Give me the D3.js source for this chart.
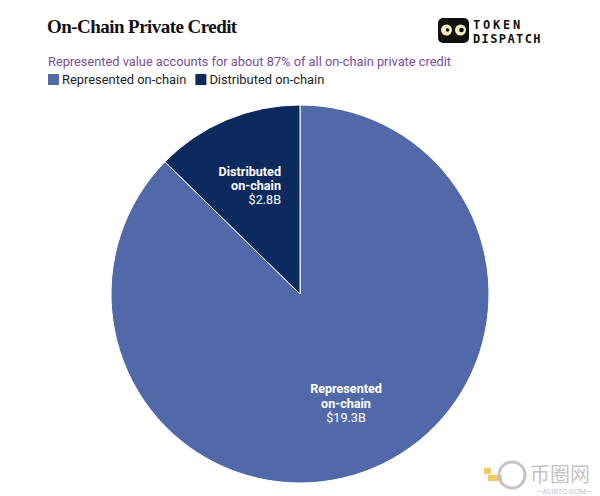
<!DOCTYPE html>
<html><head><meta charset="utf-8">
<script src="https://cdn.jsdelivr.net/npm/d3@7"></script>
<style>body{margin:0;background:#fff}svg{display:block}</style>
</head><body>
<script>
const categories = ["Represented on-chain", "Distributed on-chain"];
const values = [19.3, 2.8];
const valueLabels = ["$19.3B", "$2.8B"];
const colors = ["#5169a9", "#0c2a5d"];

const W = 600, H = 496;
const svg = d3.select("body").append("svg").attr("width", W).attr("height", H);
svg.append("rect").attr("width", W).attr("height", H).attr("fill", "#fff");

// Title
svg.append("text").attr("x", 47).attr("y", 33)
  .attr("font-family", "Liberation Serif, serif").attr("font-weight", "bold")
  .attr("font-size", 19).attr("letter-spacing", -0.55).attr("fill", "#111").text("On-Chain Private Credit");
svg.append("text").attr("x", 48).attr("y", 66)
  .attr("font-family", "Roboto, sans-serif").attr("font-size", 12.8)
  .attr("fill", "#7a4d9c").text("Represented value accounts for about 87% of all on-chain private credit");

// Legend
const leg = svg.append("g");
let lx = 48;
categories.forEach((c, i) => {
  leg.append("rect").attr("x", lx).attr("y", 74).attr("width", 11).attr("height", 11).attr("fill", colors[i]);
  const t = leg.append("text").attr("x", lx + 14).attr("y", 83.5)
    .attr("font-family", "Roboto, sans-serif").attr("font-size", 12.9).attr("fill", "#222").text(c);
  lx += 14 + t.node().getComputedTextLength() + 9;
});

// Logo
const logo = svg.append("g");
logo.append("rect").attr("x", 438).attr("y", 18).attr("width", 31).attr("height", 25).attr("rx", 5).attr("fill", "#111");
[446.5, 460.5].forEach(cx => {
  logo.append("circle").attr("cx", cx).attr("cy", 30).attr("r", 5.5).attr("fill", "#f3eec0");
});
logo.append("circle").attr("cx", 447.5).attr("cy", 30).attr("r", 1.8).attr("fill", "#111");
logo.append("circle").attr("cx", 461.5).attr("cy", 30).attr("r", 2.3).attr("fill", "#111");
logo.append("text").attr("x", 473).attr("y", 29).attr("font-family", "DejaVu Sans Mono, monospace")
  .attr("font-weight", "bold").attr("font-size", 12).attr("letter-spacing", 2.8).attr("fill", "#111").text("TOKEN");
logo.append("text").attr("x", 473).attr("y", 43).attr("font-family", "DejaVu Sans Mono, monospace")
  .attr("font-weight", "bold").attr("font-size", 12).attr("letter-spacing", 1.4).attr("fill", "#111").text("DISPATCH");

// Pie
const cx = 300, cy = 294, r = 189;
const pie = d3.pie().sort(null).value(d => d)(values);
const arc = d3.arc().innerRadius(0).outerRadius(r);
const g = svg.append("g").attr("transform", `translate(${cx},${cy})`);
g.selectAll("path").data(pie).join("path")
  .attr("d", arc).attr("fill", (d, i) => colors[i])
  .attr("stroke", "#fff").attr("stroke-width", 1);

// Labels
const labelFont = "Roboto, sans-serif";
function label(lines, x, y, anchor, step) {
  const t = svg.append("text").attr("text-anchor", anchor)
    .attr("font-family", labelFont).attr("font-size", 12.6).attr("fill", "#fff");
  lines.forEach((l, i) => {
    t.append("tspan").attr("x", x).attr("y", y + i * step)
      .attr("font-weight", l.bold ? "bold" : "normal").text(l.t);
  });
}
label([{t: "Distributed", bold: true}, {t: "on-chain", bold: true}, {t: valueLabels[1], bold: false}], 281, 176, "end", 14);
label([{t: "Represented", bold: true}, {t: "on-chain", bold: true}, {t: valueLabels[0], bold: false}], 346, 393, "middle", 14.5);

// Watermark
const wm = svg.append("g").attr("opacity", 0.7);
wm.append("rect").attr("x", 484).attr("y", 468).attr("width", 7).attr("height", 6).attr("fill", "#f0b429");
wm.append("rect").attr("x", 488).attr("y", 475).attr("width", 14).attr("height", 6).attr("fill", "#f0b429");
wm.append("circle").attr("cx", 512).attr("cy", 475).attr("r", 13).attr("fill", "none").attr("stroke", "#aaa").attr("stroke-width", 3);
wm.append("text").attr("x", 530).attr("y", 482).attr("font-family", "Noto Sans CJK SC").attr("font-size", 20)
  .attr("fill", "#aaa").text("币圈网");
wm.append("text").attr("x", 564).attr("y", 494).attr("text-anchor", "middle").attr("font-family", "Roboto, sans-serif").attr("font-size", 7.5)
  .attr("fill", "#aaa").text("—ALIBTC.COM—");
</script>
</body></html>
